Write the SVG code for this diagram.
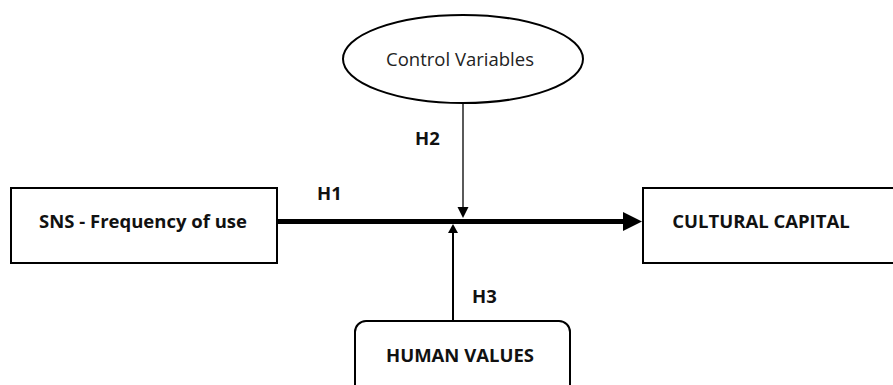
<svg xmlns="http://www.w3.org/2000/svg" width="893" height="385" viewBox="0 0 893 385">
<style>
.box{fill:#fff;stroke:#000;stroke-width:2}
.lbl{font-family:"Open Sans",sans-serif;font-weight:bold;font-size:18.5px;fill:#111}
.reg{font-family:"Open Sans",sans-serif;font-size:18.5px;fill:#222}
.ln{stroke:#000;fill:none}
</style>
<rect width="893" height="385" fill="#fff"/>
<g id="sns"><rect class="box" x="11" y="188" width="266" height="75"/><text class="lbl" x="143" y="228" text-anchor="middle">SNS - Frequency of use</text></g>
<g id="cultural"><rect class="box" x="643" y="188" width="260" height="75"/><text class="lbl" x="761" y="228" text-anchor="middle">CULTURAL CAPITAL</text></g>
<g id="control"><ellipse class="box" cx="463" cy="59" rx="120" ry="44"/><text class="reg" x="460" y="66" text-anchor="middle">Control Variables</text></g>
<g id="human"><rect class="box" x="355" y="321" width="215" height="80" rx="11"/><text class="lbl" x="460" y="362" text-anchor="middle">HUMAN VALUES</text></g>
<g id="connectors">
<line class="ln" x1="277" y1="221.5" x2="624" y2="221.5" stroke-width="5"/>
<polygon points="623,212 642,221.5 623,231"/>
<line class="ln" x1="463" y1="103" x2="463" y2="208" stroke-width="1.3"/>
<polygon points="457.5,207 468.5,207 463,218"/>
<line class="ln" x1="453" y1="321" x2="453" y2="232" stroke-width="2"/>
<polygon points="448,233 458,233 453,224"/>
<text class="lbl" x="317" y="200">H1</text>
<text class="lbl" x="415" y="145">H2</text>
<text class="lbl" x="472" y="303">H3</text>
</g>
</svg>
